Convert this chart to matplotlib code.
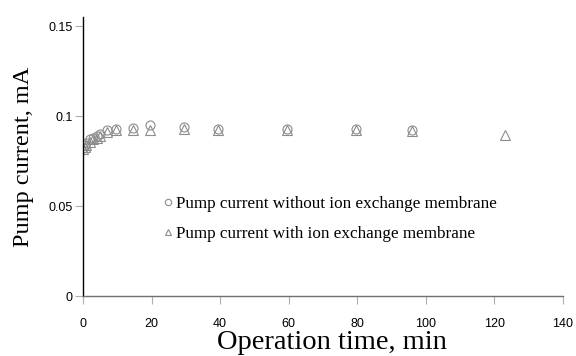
#!/usr/bin/env python3
# -*- coding: utf-8 -*-

import matplotlib
matplotlib.use('Agg')
import matplotlib.pyplot as plt

# DATA ----------------------------------------------------------------------------------------------------------------

time_without = [0, 0.5, 1, 2, 3, 4, 5, 7, 9.5, 14.5, 19.5, 29.5, 39.5, 59.5, 79.5, 96]
current_without = [0.082, 0.084, 0.085, 0.087, 0.088, 0.089, 0.090, 0.0925, 0.093, 0.0935, 0.095,
                   0.094, 0.093, 0.093, 0.093, 0.092]

time_with = [0, 0.5, 1, 2, 3, 4, 5, 7, 9.5, 14.5, 19.5, 29.5, 39.5, 59.5, 79.5, 96, 123]
current_with = [0.0815, 0.083, 0.084, 0.0855, 0.087, 0.088, 0.089, 0.091, 0.092, 0.0925, 0.0925,
                0.093, 0.0925, 0.092, 0.092, 0.0915, 0.0895]

x_ticks = [0, 20, 40, 60, 80, 100, 120, 140]
y_ticks = [0, 0.05, 0.1, 0.15]
y_tick_labels = ['0', '0.05', '0.1', '0.15']

label_without = 'Pump current without ion exchange membrane'
label_with = 'Pump current with ion exchange membrane'


# PLOT ----------------------------------------------------------------------------------------------------------------

fig = plt.figure(figsize=(5.76, 3.56), dpi=100)
ax = fig.add_axes([0.1441, 0.1685, 0.8333, 0.7835])

mark_color = '#8c8c8c'
ax.plot(time_without, current_without, linestyle='none', marker='o', markersize=6.5,
        markerfacecolor='none', markeredgecolor=mark_color, markeredgewidth=0.8, label=label_without)
ax.plot(time_with, current_with, linestyle='none', marker='^', markersize=7,
        markerfacecolor='none', markeredgecolor=mark_color, markeredgewidth=0.8, label=label_with)

ax.set_xlim(0, 140)
ax.set_ylim(0, 0.155)
ax.set_xticks(x_ticks)
ax.set_yticks(y_ticks)
ax.set_yticklabels(y_tick_labels)

for name in ('top', 'right'):
    ax.spines[name].set_visible(False)
ax.spines['left'].set_color('black')
ax.spines['left'].set_linewidth(1.0)
ax.spines['bottom'].set_color('#707070')
ax.spines['bottom'].set_linewidth(1.0)

ax.tick_params(axis='both', direction='out', length=5.5, width=0.8, color='#b0b0b0',
               labelsize=9, labelcolor='black')
for lbl in ax.get_xticklabels() + ax.get_yticklabels():
    lbl.set_fontfamily('Liberation Sans')
ax.tick_params(axis='x', pad=10)
ax.tick_params(axis='y', pad=2)

serif = 'Liberation Serif'
ax.set_xlabel('Operation time, min', fontsize=20.5, family=serif, va='baseline')
ax.xaxis.set_label_coords(0.519, -0.19)
ax.set_ylabel('Pump current, mA', fontsize=17.5, family=serif, labelpad=10)

ax.legend(loc='upper left', bbox_to_anchor=(0.168, 0.36), frameon=False, handletextpad=0.25,
          handlelength=0.5, labelspacing=0.85, borderaxespad=0, borderpad=0, markerscale=0.7,
          prop={'family': serif, 'size': 12.3})

fig.savefig('out.png', dpi=100)
